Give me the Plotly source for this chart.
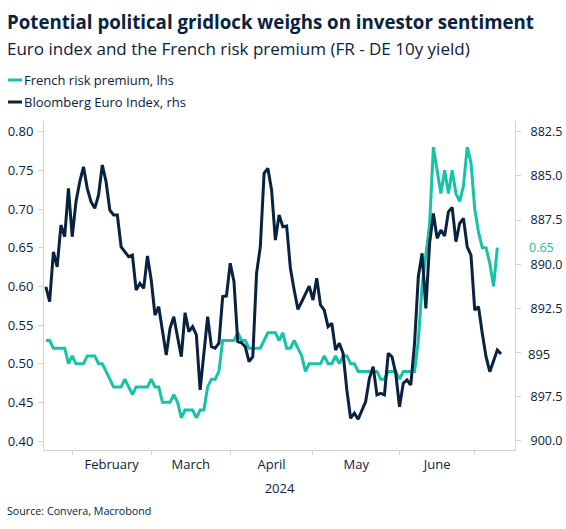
import numpy as np
import pandas as pd
import plotly.graph_objects as go

# ---------------- data ----------------
start_date = "2024-01-23"
euro_index = [
    891.27, 892.12, 889.29, 890.14, 887.78, 888.44, 885.70, 888.44, 886.46, 885.33,
    884.48, 885.70, 886.46, 886.83, 886.08, 884.38, 885.33, 886.93, 887.21, 887.21,
    889.01, 889.31, 889.57, 889.48, 891.46, 891.08, 891.36, 889.53, 890.89, 892.87,
    892.40, 893.77, 895.13, 893.62, 892.97, 894.11, 895.23, 892.74, 893.81, 893.53,
    894.00, 897.11, 895.04, 892.97, 894.66, 894.75, 894.47, 891.83, 891.79, 889.94,
    890.99, 894.38, 894.44, 894.66, 895.51, 895.23, 890.51, 889.01, 884.85, 884.57,
    885.80, 888.63, 887.21, 887.87, 887.83, 890.23, 891.46, 892.55, 892.12, 891.68,
    891.23, 892.02, 890.79, 892.30, 892.59, 893.53, 893.34, 894.85, 894.47, 895.04,
    897.11, 898.71, 898.43, 898.77, 898.24, 897.77, 896.45, 895.79, 897.39, 897.30,
    897.39, 895.04, 895.23, 896.17, 898.06, 896.73, 896.55, 896.83, 894.47, 890.70,
    889.38, 892.49, 888.81, 887.12, 888.53, 888.06, 888.40, 887.03, 886.78, 888.72,
    887.68, 887.40, 889.01, 889.48, 892.59, 892.40, 893.90, 895.23, 896.08, 895.41,
    894.85, 895.08,
]
french_premium = [
    0.53, 0.53, 0.52, 0.52, 0.52, 0.52, 0.50, 0.51, 0.50, 0.50,
    0.50, 0.51, 0.51, 0.51, 0.50, 0.50, 0.49, 0.48, 0.47, 0.47,
    0.47, 0.48, 0.47, 0.46, 0.47, 0.47, 0.47, 0.47, 0.48, 0.47,
    0.47, 0.45, 0.45, 0.45, 0.46, 0.45, 0.43, 0.44, 0.44, 0.44,
    0.43, 0.44, 0.44, 0.47, 0.48, 0.48, 0.49, 0.53, 0.53, 0.53,
    0.53, 0.54, 0.53, 0.53, 0.52, 0.52, 0.52, 0.52, 0.53, 0.54,
    0.54, 0.54, 0.53, 0.54, 0.52, 0.52, 0.53, 0.52, 0.51, 0.49,
    0.50, 0.50, 0.50, 0.50, 0.51, 0.50, 0.50, 0.51, 0.50, 0.51,
    0.51, 0.50, 0.50, 0.49, 0.49, 0.49, 0.49, 0.49, 0.49, 0.48,
    0.48, 0.49, 0.49, 0.49, 0.48, 0.49, 0.49, 0.49, 0.49, 0.53,
    0.60, 0.64, 0.68, 0.78, 0.75, 0.72, 0.75, 0.72, 0.75, 0.72,
    0.71, 0.73, 0.78, 0.76, 0.70, 0.67, 0.65, 0.65, 0.63, 0.60,
    0.65,
]
month_labels = ["February", "March", "April", "May", "June"]
month_starts = ["2024-02-01", "2024-03-01", "2024-04-01", "2024-05-01",
                "2024-06-01", "2024-07-01"]
left_ticks = [0.40, 0.45, 0.50, 0.55, 0.60, 0.65, 0.70, 0.75, 0.80]
right_ticks = [882.5, 885.0, 887.5, 890.0, 892.5, 895.0, 897.5, 900.0]
right_ticktext = ["882.5", "885.0", "887.5", "890.0", "892.5", "", "897.5", "900.0"]

# trading-day axis: position = number of business days since start_date
dates_navy = pd.bdate_range(start_date, periods=len(euro_index))
dates_teal = pd.bdate_range(start_date, periods=len(french_premium))
d0 = np.datetime64(start_date)


def bpos(d):
    d = np.asarray(pd.to_datetime(d).values.astype("datetime64[D]"))
    return np.busday_count(d0, d)


x_navy = bpos(dates_navy)
x_teal = bpos(dates_teal)
bounds_pos = bpos(month_starts).astype(float)
label_pos = (bounds_pos[:-1] + bounds_pos[1:]) / 2
x_lo = -0.5
x_hi = float(x_navy[-1]) + 3.7

# ---------------- style ----------------
TEAL = "#17C3A6"
NAVY = "#0A2241"
GREY = "#D3D3D3"
FONT = "Open Sans"
W, H = 566, 529
L, R, T, B = 44, 51, 121, 79
PW, PH = W - L - R, H - T - B


def px(x):
    return (x - L) / PW


def py(y):
    return (H - B - y) / PH


fig = go.Figure()
fig.add_trace(go.Scatter(x=x_teal, y=french_premium, mode="lines",
                         line=dict(color=TEAL, width=3),
                         customdata=dates_teal.strftime("%Y-%m-%d"),
                         hovertemplate="%{customdata}: %{y:.2f}<extra></extra>",
                         name="French risk premium, lhs", yaxis="y"))
fig.add_trace(go.Scatter(x=x_navy, y=euro_index, mode="lines",
                         line=dict(color=NAVY, width=3),
                         customdata=dates_navy.strftime("%Y-%m-%d"),
                         hovertemplate="%{customdata}: %{y:.2f}<extra></extra>",
                         name="Bloomberg Euro Index, rhs", yaxis="y2"))

fig.update_layout(
    width=W, height=H,
    margin=dict(l=L, r=R, t=T, b=B, autoexpand=False),
    paper_bgcolor="white", plot_bgcolor="white",
    showlegend=False,
    font=dict(family=FONT, color=NAVY, size=13),
    xaxis=dict(
        range=[x_lo, x_hi], automargin=False,
        tickmode="array", tickvals=label_pos, ticktext=month_labels,
        ticks="", showgrid=False, zeroline=False,
        showline=True, linecolor=GREY, linewidth=1,
        tickfont=dict(size=13, color=NAVY), ticklabelstandoff=2,
        minor=dict(tickmode="array", tickvals=bounds_pos, ticks="outside",
                   ticklen=4, tickcolor=GREY, showgrid=False),
        title=dict(text="2024", standoff=12, font=dict(size=13, color=NAVY)),
    ),
    yaxis=dict(
        range=[0.3884, 0.8138], tickmode="array", tickvals=left_ticks,
        tickformat=".2f", ticks="outside", ticklen=5, tickcolor=GREY,
        showline=True, linecolor=GREY, showgrid=False, zeroline=False,
        automargin=False,
        tickfont=dict(size=13, color=NAVY), ticklabelstandoff=2,
    ),
    yaxis2=dict(
        overlaying="y", side="right", range=[900.51, 881.89],
        tickmode="array", tickvals=right_ticks, ticktext=right_ticktext,
        ticks="outside", ticklen=5, tickcolor=GREY,
        showline=True, linecolor=GREY, showgrid=False, zeroline=False,
        automargin=False,
        tickfont=dict(size=12.5, color=NAVY), ticklabelstandoff=7,
    ),
)

ann = [
    dict(text="<b>Potential political gridlock weighs on investor sentiment</b>",
         x=px(5), y=py(21), font=dict(size=18.7, color=NAVY)),
    dict(text="Euro index and the French risk premium (FR - DE 10y yield)",
         x=px(5), y=py(48), font=dict(size=17, color=NAVY)),
    dict(text="French risk premium, lhs", x=px(22), y=py(80),
         font=dict(size=13, color=NAVY)),
    dict(text="Bloomberg Euro Index, rhs", x=px(22), y=py(102),
         font=dict(size=13, color=NAVY)),
    dict(text="Source: Convera, Macrobond", x=px(5), y=py(511),
         font=dict(size=10.7, color=NAVY)),
]
for a in ann:
    a.update(xref="paper", yref="paper", xanchor="left", yanchor="middle",
             showarrow=False)
    fig.add_annotation(**a)

fig.add_annotation(text=f"{french_premium[-1]:.2f}", xref="paper", yref="y",
                   x=px(541), y=french_premium[-1], xanchor="center",
                   yanchor="middle", showarrow=False, borderpad=0,
                   font=dict(size=12.5, color=TEAL))
fig.add_annotation(text=f"{euro_index[-1]:.0f}", xref="paper", yref="y2",
                   x=px(539), y=euro_index[-1], xanchor="center",
                   yanchor="middle", showarrow=False, borderpad=0,
                   font=dict(size=13, color=NAVY))

for yy, col in [(80, TEAL), (102, NAVY)]:
    fig.add_shape(type="line", xref="paper", yref="paper",
                  x0=px(8), x1=px(22), y0=py(yy), y1=py(yy),
                  line=dict(color=col, width=3))

fig.write_html("out.html",
               config={"displayModeBar": False},
               post_script="document.body.style.margin='0';"
                           "document.body.style.overflow='hidden';")
